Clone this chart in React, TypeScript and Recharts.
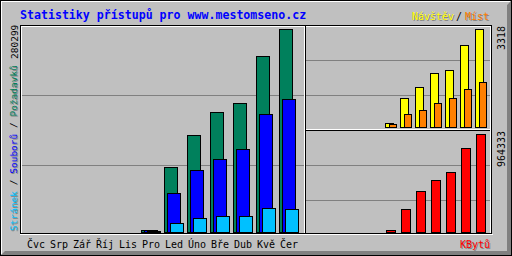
import React from 'react';
import { BarChart, Bar, XAxis, YAxis } from 'recharts';

// Monthly web statistics, July .. June
const months = ['Čvc', 'Srp', 'Zář', 'Říj', 'Lis', 'Pro', 'Led', 'Úno', 'Bře', 'Dub', 'Kvě', 'Čer'];
const hits = [0, 0, 0, 0, 0, 2700, 89800, 133500, 165300, 177700, 242600, 280299];
const files = [0, 0, 0, 0, 0, 2100, 53400, 85200, 100400, 114200, 162500, 183200];
const pages = [0, 0, 0, 0, 0, 700, 12000, 18900, 21700, 21500, 32700, 31300];
const visits = [0, 0, 0, 0, 0, 124, 972, 1344, 1818, 1920, 2766, 3318];
const sites = [0, 0, 0, 0, 0, 90, 429, 575, 802, 972, 1276, 1513];
const kbytes = [0, 0, 0, 0, 0, 16700, 223000, 400400, 508400, 587500, 823700, 964333];

const HITS_MAX = 280299;
const VISITS_MAX = 3318;
const KBYTES_MAX = 964333;

const C_HITS = '#00805C';
const C_FILES = '#0000FF';
const C_PAGES = '#00C0FF';
const C_VISITS = '#FFFF00';
const C_SITES = '#FF8000';
const C_KBYTES = '#FF0000';
const GREY = '#C0C0C0';
const DKGREY = '#808080';

const data = months.map((m, i) => ({
  month: m,
  hits: hits[i],
  files: files[i],
  pages: pages[i],
  visits: visits[i],
  sites: sites[i],
  kbytes: kbytes[i],
}));

const FONT = '"DejaVu Sans Mono", monospace';

// Bar drawn snapped to the pixel grid with a 1px black outline
const PixelBar = (props: any) => {
  const { x, y, width, height, fill } = props;
  if (!height || height <= 0 || !isFinite(x) || !isFinite(y)) return null;
  const left = Math.round(x - 0.5) + 0.5;
  const top = Math.round(y - 0.5) + 0.5;
  const bottom = Math.round(y + height - 0.5) + 0.5;
  return (
    <rect
      x={left}
      y={top}
      width={Math.round(width)}
      height={Math.max(bottom - top, 1)}
      fill={fill}
      stroke="#000"
      strokeWidth={1}
    />
  );
};

const MonthTick = (props: any) => {
  const { x, payload } = props;
  return (
    <text x={x} y={248} textAnchor="middle" fontFamily={FONT} fontSize={10} fill="#000">
      {payload.value}
    </text>
  );
};

const layer: React.CSSProperties = { position: 'absolute', left: 0, top: 0 };

function Frame() {
  const small = { fontFamily: FONT, fontSize: 10 };
  const legend = { fontFamily: FONT, fontSize: 9.5 };
  return (
    <svg width={512} height={256} style={layer}>
      <rect x={0} y={0} width={512} height={256} fill={GREY} />
      {/* raised border: dark shadow bottom/right, highlight top/left */}
      <polygon points="0,256 512,256 512,0 507,5 507,251 5,251" fill={DKGREY} />
      <line x1={1} y1={1.5} x2={510} y2={1.5} stroke="#fff" />
      <line x1={1.5} y1={1} x2={1.5} y2={254} stroke="#fff" />
      <rect x={0.5} y={0.5} width={511} height={255} fill="none" stroke="#000" />

      {/* plot panels */}
      <line x1={20} y1={25.5} x2={492} y2={25.5} stroke="#000" />
      <line x1={20.5} y1={25} x2={20.5} y2={234} stroke="#000" />
      <line x1={20} y1={233.5} x2={492} y2={233.5} stroke="#000" />
      <line x1={491.5} y1={25} x2={491.5} y2={234} stroke="#000" />
      <line x1={21} y1={26.5} x2={491} y2={26.5} stroke="#fff" />
      <line x1={21.5} y1={26} x2={21.5} y2={233} stroke="#fff" />
      <line x1={20} y1={234.5} x2={493} y2={234.5} stroke="#fff" />
      <line x1={490.5} y1={26} x2={490.5} y2={233} stroke="#fff" />

      {/* grid lines */}
      <line x1={22} y1={95.5} x2={304} y2={95.5} stroke={DKGREY} />
      <line x1={22} y1={165.5} x2={304} y2={165.5} stroke={DKGREY} />
      <line x1={306} y1={60.5} x2={490} y2={60.5} stroke={DKGREY} />
      <line x1={306} y1={95.5} x2={490} y2={95.5} stroke={DKGREY} />
      <line x1={306} y1={165.5} x2={490} y2={165.5} stroke={DKGREY} />
      <line x1={306} y1={200.5} x2={490} y2={200.5} stroke={DKGREY} />

      {/* section separators */}
      <line x1={304.5} y1={26} x2={304.5} y2={233} stroke="#fff" />
      <line x1={305.5} y1={26} x2={305.5} y2={233} stroke="#000" />
      <line x1={306} y1={129.5} x2={490} y2={129.5} stroke="#fff" />
      <line x1={306} y1={130.5} x2={490} y2={130.5} stroke="#000" />

      {/* title */}
      <text x={20} y={19} fontFamily={FONT} fontWeight="bold" fontSize={11.6} fill="#0000FF">
        Statistiky přístupů pro www.mestomseno.cz
      </text>

      {/* legend top right */}
      <text x={413} y={21} {...small} fill={DKGREY}>Návštěv</text>
      <text x={412} y={20} {...small} fill={C_VISITS}>Návštěv</text>
      <text x={456} y={20} {...small} fill="#000">/</text>
      <text x={466} y={21} {...small} fill={DKGREY}>Míst</text>
      <text x={465} y={20} {...small} fill={C_SITES}>Míst</text>

      {/* legend left, rotated */}
      <text transform="translate(18,232) rotate(-90)" {...legend} fill={DKGREY}>
        <tspan>Stránek</tspan>
        <tspan fill="none"> / </tspan>
        <tspan>Souborů</tspan>
        <tspan fill="none"> / </tspan>
        <tspan>Požadavků</tspan>
      </text>
      <text transform="translate(17,231) rotate(-90)" {...legend}>
        <tspan fill={C_PAGES}>Stránek</tspan>
        <tspan fill="#000"> / </tspan>
        <tspan fill={C_FILES}>Souborů</tspan>
        <tspan fill="#000"> / </tspan>
        <tspan fill={C_HITS}>Požadavků</tspan>
      </text>
      <text transform="translate(18,59) rotate(-90)" fontFamily={FONT} fontSize={9.5} fill="#000">
        {String(HITS_MAX)}
      </text>

      {/* maxima of right panels */}
      <text transform="translate(505,50) rotate(-90)" {...small} fill="#000">{String(VISITS_MAX)}</text>
      <text transform="translate(505,167) rotate(-90)" {...small} fill="#000">{String(KBYTES_MAX)}</text>

      {/* KBytes label */}
      <text x={461} y={249} {...small} fill={DKGREY}>KBytů</text>
      <text x={460} y={248} {...small} fill={C_KBYTES}>KBytů</text>
    </svg>
  );
}

export default function App() {
  return (
    <div style={{ position: 'fixed', left: 0, top: 0, width: 512, height: 256, overflow: 'hidden' }}>
      <Frame />

      {/* hits / files / pages */}
      <div style={layer}>
        <BarChart
          width={512}
          height={256}
          data={data}
          margin={{ top: 29.5, right: 211.5, bottom: 0, left: 24.5 }}
          barGap={-10}
          barCategoryGap={0}
        >
          <XAxis
            dataKey="month"
            interval={0}
            axisLine={false}
            tickLine={false}
            height={23.5}
            tick={MonthTick}
          />
          <YAxis hide domain={[0, HITS_MAX]} />
          <Bar dataKey="hits" fill={C_HITS} barSize={13} shape={PixelBar} isAnimationActive={false} />
          <Bar dataKey="files" fill={C_FILES} barSize={13} shape={PixelBar} isAnimationActive={false} />
          <Bar dataKey="pages" fill={C_PAGES} barSize={13} shape={PixelBar} isAnimationActive={false} />
        </BarChart>
      </div>

      {/* visits / sites */}
      <div style={layer}>
        <BarChart
          width={512}
          height={256}
          data={data}
          margin={{ top: 29.5, right: 23.5, bottom: 128.5, left: 308.5 }}
          barGap={-4}
          barCategoryGap={0}
        >
          <XAxis dataKey="month" hide />
          <YAxis hide domain={[0, VISITS_MAX]} />
          <Bar dataKey="visits" fill={C_VISITS} barSize={8} shape={PixelBar} isAnimationActive={false} />
          <Bar dataKey="sites" fill={C_SITES} barSize={7} shape={PixelBar} isAnimationActive={false} />
        </BarChart>
      </div>

      {/* kbytes */}
      <div style={layer}>
        <BarChart
          width={512}
          height={256}
          data={data}
          margin={{ top: 134.5, right: 23.5, bottom: 23.5, left: 308.5 }}
          barCategoryGap={0}
        >
          <XAxis dataKey="month" hide />
          <YAxis hide domain={[0, KBYTES_MAX]} />
          <Bar dataKey="kbytes" fill={C_KBYTES} barSize={9} shape={PixelBar} isAnimationActive={false} />
        </BarChart>
      </div>
    </div>
  );
}
